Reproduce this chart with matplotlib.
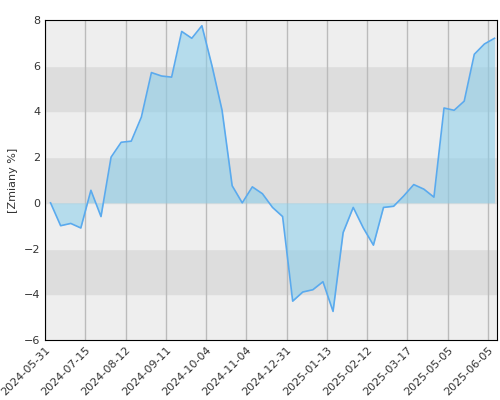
import numpy as np
import matplotlib
matplotlib.use('Agg')
import matplotlib.pyplot as plt

# values, one point per step
values = [0, -1.0, -0.9, -1.1, 0.55, -0.6, 2.0, 2.65, 2.7, 3.75,
          5.7, 5.55, 5.5, 7.5, 7.2, 7.75, 6.0, 4.05, 0.75, 0.0,
          0.7, 0.4, -0.2, -0.6, -4.3, -3.9, -3.8, -3.45, -4.75, -1.3,
          -0.2, -1.1, -1.85, -0.2, -0.15, 0.3, 0.8, 0.6, 0.25, 4.15,
          4.05, 4.45, 6.5, 6.95, 7.2]
tick_labels = ['2024-05-31', '2024-07-15', '2024-08-12', '2024-09-11',
               '2024-10-04', '2024-11-04', '2024-12-31', '2025-01-13',
               '2025-02-12', '2025-03-17', '2025-05-05', '2025-06-05']

x = np.arange(len(values))
tick_pos = -0.55 + 3.99 * np.arange(len(tick_labels))

fig = plt.figure(figsize=(5, 4), dpi=100)
ax = fig.add_axes([0.09, 0.15, 0.904, 0.80])

# background bands
for i, lo in enumerate(range(-6, 8, 2)):
    ax.axhspan(lo, lo + 2, color='#eeeeee' if i % 2 == 0 else '#dddddd', zorder=0)

for t in tick_pos:
    ax.axvline(t, color='#bbbbbb', lw=1, zorder=1)

ax.fill_between(x, values, 0, color='#87ceeb', alpha=0.55, lw=0, zorder=2)
ax.plot(x, values, color='#5aaaee', lw=1.2, zorder=3)

ax.set_xlim(-0.55, 44.25)
ax.set_ylim(-6, 8)
ax.set_yticks(range(-6, 9, 2))
ax.set_xticks(tick_pos)
ax.set_xticklabels(tick_labels, rotation=45, ha='right', rotation_mode='anchor')
ax.tick_params(length=0, labelsize=8, colors='#333333')
ax.set_ylabel('[Zmiany %]', fontsize=8, color='#333333')
for s in ax.spines.values():
    s.set_color('black')

plt.savefig('out.png')
